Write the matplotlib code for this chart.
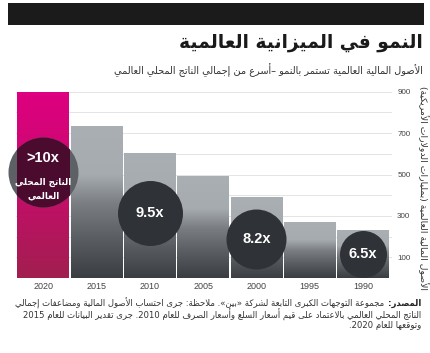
"""
Growth of global financial assets vs GDP (Arabic bar chart)
"""

import re
import numpy as np
import matplotlib
matplotlib.use('Agg')
import matplotlib.pyplot as plt
from matplotlib.patches import Rectangle
from matplotlib.colors import LinearSegmentedColormap

years = ['2020', '2015', '2010', '2005', '2000', '1995', '1990']
assets = [900, 730, 600, 490, 390, 270, 230]
ytick_vals = [100, 300, 500, 700, 900]
grid_vals = list(range(100, 1000, 100))

# multiplier circles: bar index, label, vertical position (in axis units)
badge_bar = [0, 2, 4, 6]
badge_text = ['>10x', '9.5x', '8.2x', '6.5x']
badge_y = [513, 312, 187, 116]
badge_diam = [70, 65, 60, 47]  # pixels

title = 'النمو في الميزانية العالمية'
subtitle = 'الأصول المالية العالمية تستمر بالنمو –أسرع من إجمالي الناتج المحلي العالمي'
ylabel = 'الأصول المالية العالمية (بمليارات الدولارات الأمريكية)'
gdp_lines = ['الناتج المحلي', 'العالمي']
source_bold = 'المصدر:'
footer = [
    'مجموعة التوجهات الكبرى التابعة لشركة «بين». ملاحظة: جرى احتساب الأصول المالية ومضاعفات إجمالي',
    'الناتج المحلي العالمي بالاعتماد على قيم أسعار السلع وأسعار الصرف للعام 2010. جرى تقدير البيانات للعام 2015',
    'وتوقعها للعام 2020.',
]

# --- minimal arabic shaping (matplotlib has no complex text layout) ---
JOIN = {
    'ء': (0xFE80, 'U'), 'آ': (0xFE81, 'R'), 'أ': (0xFE83, 'R'), 'ؤ': (0xFE85, 'R'),
    'إ': (0xFE87, 'R'), 'ئ': (0xFE89, 'D'), 'ا': (0xFE8D, 'R'), 'ب': (0xFE8F, 'D'),
    'ة': (0xFE93, 'R'), 'ت': (0xFE95, 'D'), 'ث': (0xFE99, 'D'), 'ج': (0xFE9D, 'D'),
    'ح': (0xFEA1, 'D'), 'خ': (0xFEA5, 'D'), 'د': (0xFEA9, 'R'), 'ذ': (0xFEAB, 'R'),
    'ر': (0xFEAD, 'R'), 'ز': (0xFEAF, 'R'), 'س': (0xFEB1, 'D'), 'ش': (0xFEB5, 'D'),
    'ص': (0xFEB9, 'D'), 'ض': (0xFEBD, 'D'), 'ط': (0xFEC1, 'D'), 'ظ': (0xFEC5, 'D'),
    'ع': (0xFEC9, 'D'), 'غ': (0xFECD, 'D'), 'ف': (0xFED1, 'D'), 'ق': (0xFED5, 'D'),
    'ك': (0xFED9, 'D'), 'ل': (0xFEDD, 'D'), 'م': (0xFEE1, 'D'), 'ن': (0xFEE5, 'D'),
    'ه': (0xFEE9, 'D'), 'و': (0xFEED, 'R'), 'ى': (0xFEEF, 'R'), 'ي': (0xFEF1, 'D'),
}
LAM_ALEF = {'آ': 0xFEF5, 'أ': 0xFEF7, 'إ': 0xFEF9, 'ا': 0xFEFB}
MIRROR = {'(': ')', ')': '(', '«': '»', '»': '«'}


def joins_next(ch):
    return ch in JOIN and JOIN[ch][1] == 'D'


def joinable(ch):
    return ch in JOIN and JOIN[ch][1] != 'U'


def shape(s):
    out = []
    i = 0
    while i < len(s):
        ch = s[i]
        if ch not in JOIN:
            out.append(ch)
            i += 1
            continue
        prev = s[i - 1] if i > 0 else ''
        to_prev = joins_next(prev) and joinable(ch)
        if ch == 'ل' and i + 1 < len(s) and s[i + 1] in LAM_ALEF:
            out.append(chr(LAM_ALEF[s[i + 1]] + (1 if to_prev else 0)))
            i += 2
            continue
        nxt = s[i + 1] if i + 1 < len(s) else ''
        to_next = joins_next(ch) and joinable(nxt)
        form = {(False, False): 0, (True, False): 1,
                (False, True): 2, (True, True): 3}[(to_prev, to_next)]
        out.append(chr(JOIN[ch][0] + form))
        i += 1
    return ''.join(out)


def ar(text):
    tokens = re.findall(r'[0-9A-Za-z]+|.', shape(text))
    return ''.join(MIRROR.get(t, t) for t in reversed(tokens))


AR_FONT = 'DejaVu Sans'
LAT_FONT = 'Liberation Sans'

W, H = 431, 353
fig = plt.figure(figsize=(W / 100, H / 100), dpi=100)
fig.add_artist(Rectangle((8 / W, 1 - 25 / H), 416 / W, 22 / H,
                         transform=fig.transFigure, color='#1b1b1b', lw=0))

fig.text(423 / W, 1 - 43 / H, ar(title), ha='right', va='center',
         fontsize=13.4, fontweight='bold', family=AR_FONT, color='#1a1a1a')
fig.text(423 / W, 1 - 70 / H, ar(subtitle), ha='right', va='center',
         fontsize=7.05, family=AR_FONT, color='#333333')

ax = fig.add_axes([16.5 / W, 75 / H, 375.8 / W, 186.3 / H])

bw = 0.97
grey_cmap = LinearSegmentedColormap.from_list(
    'grey', [(0, '#3a3d42'), (0.26, '#5a5d62'), (0.49, '#7a7e82'),
             (0.68, '#a6abaf'), (1, '#aaafb3')])
pink_cmap = LinearSegmentedColormap.from_list('pink', ['#a11f4f', '#c80c6c', '#de0080'])
grad = np.linspace(0, 1, 256).reshape(-1, 1)
for i, v in enumerate(assets):
    ax.imshow(grad, cmap=pink_cmap if i == 0 else grey_cmap,
              extent=[i - bw / 2, i + bw / 2, 0, v], origin='lower',
              aspect='auto', zorder=2, interpolation='bilinear')

pink_rect = Rectangle((-bw / 2, 0), bw, assets[0], fill=False, lw=0,
                      transform=ax.transData)
ax.add_patch(pink_rect)

for i, lab, y, d in zip(badge_bar, badge_text, badge_y, badge_diam):
    s = (d * 0.72) ** 2
    if i == 0:
        ax.scatter([i], [y], s=s, color='#5d6165', lw=0, zorder=4, clip_on=False)
        m = ax.scatter([i], [y], s=s, color='#4a0b2f', lw=0, zorder=5)
        m.set_clip_path(pink_rect)
        ax.annotate(lab, (i, y), xytext=(0, 10), textcoords='offset points',
                    ha='center', va='center', color='white', fontsize=10.5,
                    fontweight='bold', family=LAT_FONT, zorder=6)
        for k, line in enumerate(gdp_lines):
            ax.annotate(ar(line), (i, y), xytext=(0, -8 - 9.5 * k),
                        textcoords='offset points', ha='center', va='center',
                        color='white', fontsize=6.3, fontweight='bold',
                        family=AR_FONT, zorder=6)
    else:
        ax.scatter([i], [y], s=s, color='#2f3236', lw=0, zorder=4)
        ax.text(i, y, lab, ha='center', va='center', color='white',
                fontsize=10.5, fontweight='bold', family=LAT_FONT, zorder=6)

ax.set_xlim(-0.5, 6.55)
ax.set_ylim(0, 900)
ax.set_xticks(range(len(years)))
ax.set_xticklabels(years, family=LAT_FONT, fontsize=6.5, color='#444444')
ax.set_yticks(ytick_vals)
ax.set_yticklabels([str(v) for v in ytick_vals], family=LAT_FONT,
                   fontsize=5.8, color='#444444')
ax.set_yticks(grid_vals, minor=True)
ax.yaxis.tick_right()
ax.tick_params(axis='both', which='both', length=0)
ax.tick_params(axis='x', pad=3)
ax.tick_params(axis='y', pad=3.5)
ax.grid(axis='y', which='both', color='#e4e4e4', lw=0.7)
ax.set_axisbelow(True)
for sp in ax.spines.values():
    sp.set_visible(False)

fig.text(423 / W, 1 - 188 / H, ar(ylabel), rotation=270, ha='center',
         va='center', fontsize=6.7, family=AR_FONT, color='#333333')

# footer, with the bold source word at the right end of the first line
fs = 6.15
fig.canvas.draw()
renderer = fig.canvas.get_renderer()
tb = fig.text(421 / W, 1 - 303 / H, ar(source_bold), ha='right', va='center',
              fontsize=fs, fontweight='bold', family=AR_FONT, color='#222222')
bw_px = tb.get_window_extent(renderer).width
for k, line in enumerate(footer):
    x = 421 - (bw_px + 3 if k == 0 else 0)
    fig.text(x / W, 1 - (303 + 11.5 * k) / H, ar(line), ha='right',
             va='center', fontsize=fs, family=AR_FONT, color='#333333')

fig.savefig('out.png', dpi=100)
